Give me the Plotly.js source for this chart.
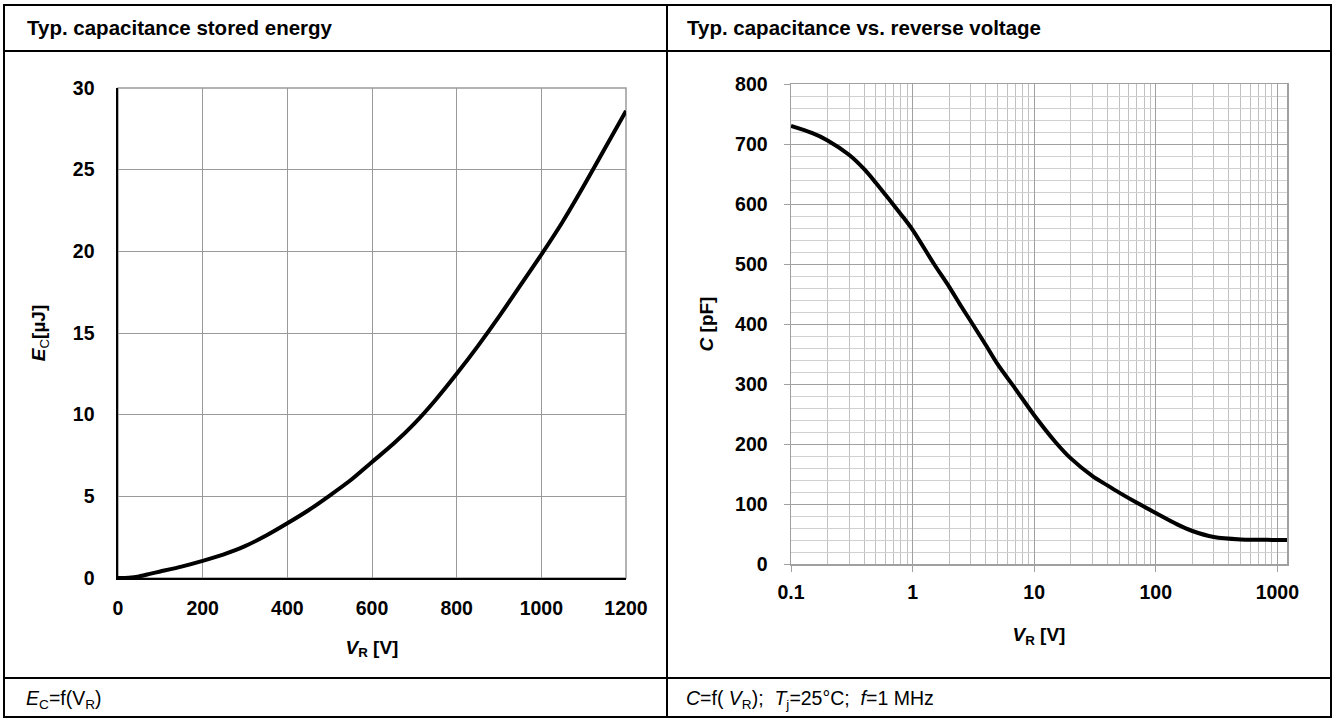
<!DOCTYPE html>
<html>
<head>
<meta charset="utf-8">
<script src="https://cdn.plot.ly/plotly-3.0.1.min.js"></script>
<style>html,body{margin:0;padding:0;background:#fff;}#chart{width:1334px;height:719px;}</style>
</head>
<body>
<div id="chart"></div>
<script>
// ---- Data: stored energy E_C vs V_R ----
const energyVR = [0, 25, 50, 75, 100, 150, 200, 250, 300, 350, 400, 450, 500, 550, 600, 650, 700, 750, 800, 850, 900, 950, 1000, 1050, 1100, 1150, 1200];
const energyEC = [0, 0.02, 0.1, 0.25, 0.4, 0.7, 1.05, 1.45, 1.95, 2.6, 3.35, 4.15, 5.05, 6.0, 7.1, 8.2, 9.45, 10.9, 12.5, 14.2, 16.0, 17.9, 19.8, 21.8, 24.0, 26.3, 28.6];

// ---- Data: capacitance C vs V_R ----
const capVR = [0.1, 0.15, 0.2, 0.3, 0.4, 0.5, 0.6, 0.7, 0.8, 1, 1.5, 2, 2.5, 3, 4, 5, 7, 10, 15, 20, 30, 40, 50, 70, 100, 150, 200, 300, 500, 700, 1000, 1200];
const capC  = [730, 718, 706, 682, 658, 635, 615, 598, 583, 557, 500, 462, 430, 405, 365, 333, 292, 248, 203, 176, 147, 131, 119, 102, 85, 66, 55, 45, 41, 40.5, 40, 40];

// ---- Tick labels ----
const energyXTicks = [0, 200, 400, 600, 800, 1000, 1200];
const energyYTicks = [0, 5, 10, 15, 20, 25, 30];
const capXTicks = [0.1, 1, 10, 100, 1000];
const capXTickText = ['0.1', '1', '10', '100', '1000'];
const capYTicks = [0, 100, 200, 300, 400, 500, 600, 700, 800];
const capXMinor = [0.2, 0.3, 0.4, 0.5, 0.6, 0.7, 0.8, 0.9, 2, 3, 4, 5, 6, 7, 8, 9, 20, 30, 40, 50, 60, 70, 80, 90, 200, 300, 400, 500, 600, 700, 800, 900];

const W = 1334, H = 719;
const px = v => v / W;
const py = v => 1 - v / H;

const FONT = 'Liberation Sans, Arial, sans-serif';
const tickFont = {family: FONT, size: 19.5, color: '#000', weight: 'bold'};
const titleFont = {family: FONT, size: 19, color: '#000'};

const traces = [
  {x: energyVR, y: energyEC, type: 'scatter', mode: 'lines', xaxis: 'x', yaxis: 'y',
   line: {color: '#000', width: 4, shape: 'spline', smoothing: 0.6}, hoverinfo: 'skip'},
  {x: capVR, y: capC, type: 'scatter', mode: 'lines', xaxis: 'x2', yaxis: 'y2',
   line: {color: '#000', width: 4, shape: 'spline', smoothing: 0.9}, hoverinfo: 'skip'}
];

const bl = {color: '#000', width: 2};
const shapes = [
  {type: 'rect', xref: 'paper', yref: 'paper', x0: px(4), x1: px(1331), y0: py(717), y1: py(5), line: bl},
  {type: 'line', xref: 'paper', yref: 'paper', x0: px(4), x1: px(1331), y0: py(51), y1: py(51), line: bl},
  {type: 'line', xref: 'paper', yref: 'paper', x0: px(4), x1: px(1331), y0: py(678), y1: py(678), line: bl},
  {type: 'line', xref: 'paper', yref: 'paper', x0: px(667), x1: px(667), y0: py(717), y1: py(5), line: bl},
  {type: 'rect', xref: 'x domain', yref: 'y domain', x0: 0, x1: 1, y0: 0, y1: 1, line: {color: '#9a9a9a', width: 1.5}, layer: 'below'}
];

const ann = (x, y, text, size) => ({
  xref: 'paper', yref: 'paper', x: x, y: y, text: text, showarrow: false,
  xanchor: 'left', yanchor: 'middle', font: {family: FONT, size: size, color: '#000'}
});

const annotations = [
  ann(px(25), py(28), '<b>Typ. capacitance stored energy</b>', 20.5),
  ann(px(685), py(28), '<b>Typ. capacitance vs. reverse voltage</b>', 20.5),
  ann(px(24), py(699), '<i>E</i><sub>C</sub>=f(V<sub>R</sub>)', 19.5),
  ann(px(684), py(699), '<i>C</i>=f( <i>V</i><sub>R</sub>);  <i>T</i><sub>j</sub>=25°C;  <i>f</i>=1 MHz', 19.5)
];

const layout = {
  width: W, height: H,
  margin: {l: 0, r: 0, t: 0, b: 0},
  paper_bgcolor: '#fff', plot_bgcolor: '#fff',
  showlegend: false,
  font: {family: FONT, color: '#000'},
  xaxis: {
    domain: [px(118), px(626)], anchor: 'y', range: [0, 1200],
    tickvals: energyXTicks, ticktext: energyXTicks.map(String),
    showgrid: true, gridcolor: '#9a9a9a', gridwidth: 1, zeroline: false,
    showline: true, linecolor: '#000', linewidth: 1.6, ticks: '',
    tickfont: tickFont, ticklabelstandoff: 12,
    title: {text: '<b><i>V</i><sub>R</sub> [V]</b>', font: titleFont, standoff: 22}
  },
  yaxis: {
    domain: [py(578), py(88)], anchor: 'x', range: [0, 30],
    tickvals: energyYTicks, ticktext: energyYTicks.map(String),
    showgrid: true, gridcolor: '#9a9a9a', gridwidth: 1, zeroline: false,
    showline: true, linecolor: '#000', linewidth: 1.6, ticks: '',
    tickfont: tickFont, ticklabelstandoff: 18,
    title: {text: '<b><i>E</i></b><sub>C</sub><b>[µJ]</b>', font: titleFont, standoff: 22}
  },
  xaxis2: {
    domain: [px(791), px(1287)], anchor: 'y2', type: 'log', range: [-1, Math.log10(1200)],
    tickvals: capXTicks, ticktext: capXTickText,
    showgrid: true, gridcolor: '#a0a0a0', gridwidth: 1, zeroline: false,
    showline: true, linecolor: '#a0a0a0', linewidth: 1.5, mirror: true,
    ticks: 'outside', ticklen: 6, tickcolor: '#a0a0a0',
    minor: {tickvals: capXMinor, showgrid: true, gridcolor: '#c0c0c0', gridwidth: 1, ticks: ''},
    tickfont: tickFont, ticklabelstandoff: 4,
    title: {text: '<b><i>V</i><sub>R</sub> [V]</b>', font: titleFont, standoff: 26}
  },
  yaxis2: {
    domain: [py(564), py(84)], anchor: 'x2', range: [0, 800],
    tickvals: capYTicks, ticktext: capYTicks.map(String),
    showgrid: true, gridcolor: '#a0a0a0', gridwidth: 1, zeroline: false,
    showline: true, linecolor: '#a0a0a0', linewidth: 1.5, mirror: true,
    ticks: 'outside', ticklen: 6, tickcolor: '#a0a0a0',
    minor: {dtick: 20, showgrid: true, gridcolor: '#d0d0d0', gridwidth: 1, ticks: ''},
    tickfont: tickFont, ticklabelstandoff: 12,
    title: {text: '<b><i>C</i> [pF]</b>', font: titleFont, standoff: 16}
  },
  shapes: shapes,
  annotations: annotations
};

Plotly.newPlot('chart', traces, layout, {staticPlot: true, displayModeBar: false});
</script>
</body>
</html>
